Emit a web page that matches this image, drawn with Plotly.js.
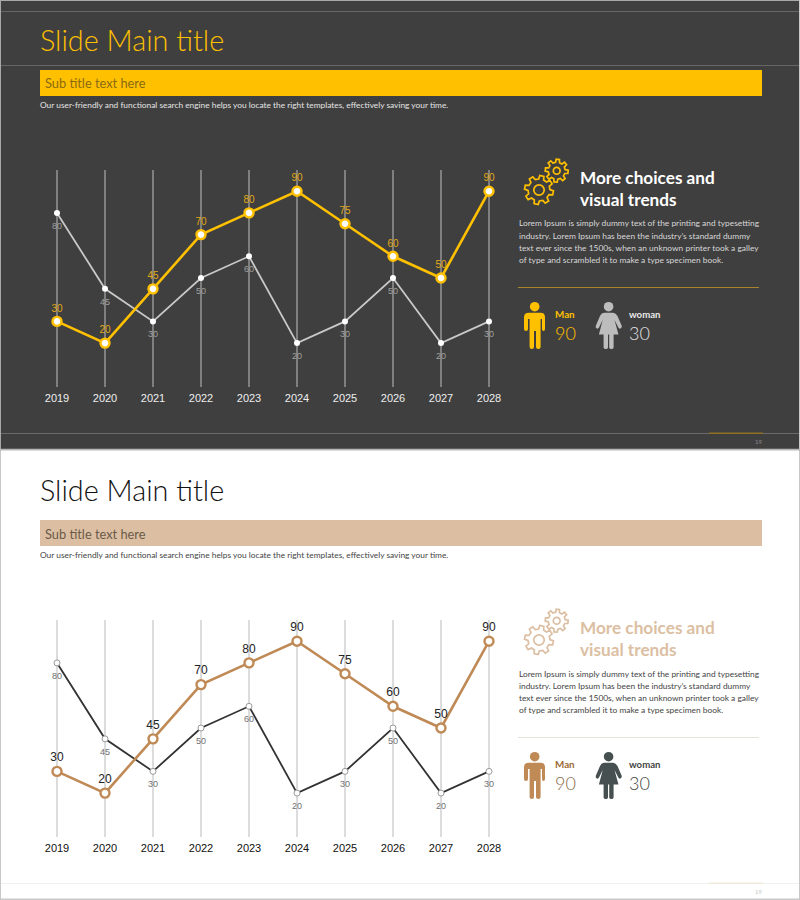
<!DOCTYPE html>
<html><head><meta charset="utf-8">
<script src="https://cdn.plot.ly/plotly-3.0.1.min.js"></script>
<style>html,body{margin:0;padding:0;background:#fff}#c{width:800px;height:900px}</style>
</head><body><div id="c"></div>
<script>
const years = ['2019','2020','2021','2022','2023','2024','2025','2026','2027','2028'];
const manValues = [30,20,45,70,80,90,75,60,50,90];
const womanValues = [80,45,30,50,60,20,30,50,20,30];
const bodyLines = [
 'Lorem Ipsum is simply dummy text of the printing and typesetting',
 'industry. Lorem Ipsum has been the industry\u2019s standard dummy',
 'text ever since the 1500s, when an unknown printer took a galley',
 'of type and scrambled it to make a type specimen book.'];
const titleText = 'Slide Main title';
const subText = 'Sub title text here';
const descText = 'Our user-friendly and functional search engine helps you locate the right templates, effectively saving your time.';
const headLines = ['More choices and','visual trends'];

const W=800,H=900, FONT='Lato, "Open Sans", sans-serif', AX='"Liberation Sans", Arial, sans-serif';
const px=x=>x/W, py=y=>1-y/H;
const shapes=[], annotations=[];
function rect(x0,y0,x1,y1,fill){shapes.push({type:'rect',xref:'paper',yref:'paper',x0:px(x0),x1:px(x1),y0:py(y0),y1:py(y1),fillcolor:fill,line:{width:0},layer:'below'});}
function pathShape(d,fill,stroke,sw){shapes.push({type:'path',xref:'paper',yref:'paper',path:d,fillcolor:fill||'rgba(0,0,0,0)',line:{color:stroke||'rgba(0,0,0,0)',width:sw||0},layer:'above'});}
function P(pts){
  return pts.map(s=>{ if(typeof s==='string')return s; return px(s[0]).toFixed(5)+','+py(s[1]).toFixed(5);}).join(' ');
}
function note(t,x,y,size,color,o){annotations.push(Object.assign({text:t,x:px(x-1),y:py(y),xref:'paper',yref:'paper',showarrow:false,xanchor:'left',yanchor:'middle',align:'left',borderpad:0,font:Object.assign({family:FONT,size:size,color:color},o&&o.font||{})},o&&o.a||{}));}
function circle(cx,cy,r,fill,stroke,sw){shapes.push({type:'circle',xref:'paper',yref:'paper',x0:px(cx-r),x1:px(cx+r),y0:py(cy+r),y1:py(cy-r),fillcolor:fill||'rgba(0,0,0,0)',line:{color:stroke||'rgba(0,0,0,0)',width:sw||0},layer:'above'});}
function gear(cx,cy,ro,ri,rh,teeth,color,sw,rot){
  const seg=[];const n=teeth;
  for(let i=0;i<n;i++){
    const a=rot+i*2*Math.PI/n, s=2*Math.PI/n;
    const pts=[[ri,a-s*0.3],[ro,a-s*0.18],[ro,a+s*0.18],[ri,a+s*0.3]];
    pts.forEach(p=>seg.push([cx+p[0]*Math.cos(p[1]),cy+p[0]*Math.sin(p[1])]));
  }
  let d='M '+P([seg[0]]);for(let i=1;i<seg.length;i++)d+=' L '+P([seg[i]]);d+=' Z';
  pathShape(d,null,color,sw);
  circle(cx,cy,rh,null,color,sw);
}
function man(dy,color){
  const q=(a,b,c,e)=>'Q '+P([[a,b+dy]])+' '+P([[c,e+dy]]);
  const L=(a,b)=>'L '+P([[a,b+dy]]);
  circle(534.7,306.7+dy,4.8,color);
  pathShape(['M '+P([[529,312.7+dy]]),L(540.5,312.7),q(545,312.7,545,317),L(545,329),q(545,331,543.5,331),q(542,331,542,329),L(542,319),L(540.6,319),L(540.6,347),q(540.6,349,538.3,349),q(536,349,536,347),L(536,331),L(534,331),L(534,347),q(534,349,531.8,349),q(529.6,349,529.6,347),L(529.6,319),L(528,319),L(528,329),q(528,331,526,331),q(524,331,524,329),L(524,317),q(524,312.7,529,312.7),'Z'].join(' '),color);
}
function woman(dy,color){
  const L=(a,b)=>'L '+P([[a,b+dy]]);
  const q=(a,b,c,e)=>'Q '+P([[a,b+dy]])+' '+P([[c,e+dy]]);
  circle(608.6,306.7+dy,4.8,color);
  pathShape(['M '+P([[604,312.7+dy]]),L(613,312.7),q(616,313,617.5,316),L(621.8,326),q(622,328,620.5,328.5),q(619,329,618.3,327.5),L(614.5,320),L(618.5,334.5),L(613.6,334.5),L(613.6,347.5),q(613.4,349,611.4,349),q(609.4,349,609.2,347.5),L(609.2,334.5),L(608,334.5),L(608,347.5),q(607.8,349,605.8,349),q(603.8,349,603.6,347.5),L(603.6,334.5),L(598.9,334.5),L(602.7,320),L(599,327.5),q(598.2,329,596.8,328.5),q(595.4,328,595.7,326),L(600,316),q(601,313,604,312.7),'Z'].join(' '),color);
}
rect(0,0,800,450,'#3f3f3f');
rect(0,0,800,1,'#a8a8a8');rect(0,0,1,450,'#a8a8a8');
rect(799,0,800,900,'#c8c8c8');rect(0,450,1,900,'#c8c8c8');rect(0,898.5,800,900,'#c8c8c8');
rect(0,448.7,800,450.5,'#b8b8b8');
rect(1,11,799,12,'#666666');rect(1,65,799,66,'#666666');rect(1,433,799,434,'#6a6a6a');
rect(709,432.6,763,434,'#8f7125');
rect(1,883,799,884,'#f0f0f0');rect(709,882.6,763,884,'#f0e9dc');
rect(40,70,762,96,'#ffc000');rect(40,520,762,546,'#dcbfa3');
rect(518,287,759,288,'#a8842a');rect(518,737,759,738,'#e6e2dc');

function panel(dy,o){
  note(titleText,40,40+dy,28.8,o.title,{font:{weight:300}});
  note(subText,45,83.5+dy,12.8,o.sub,{font:{weight:400}});
  note(descText,40,105+dy,8.35,o.desc,{font:{weight:400}});
  note(headLines[0],580,177+dy,17.2,o.head,{font:{weight:700}});
  note(headLines[1],580,199.5+dy,17.2,o.head,{font:{weight:700}});
  bodyLines.forEach((t,i)=>note(t,518.5,223.5+dy+i*12,8.4,o.body));
  note('Man',555,314+dy,9.8,o.manLab,{font:{weight:700}});
  note('90',555,333+dy,18,o.manNum,{font:{weight:300}});
  note('woman',629,314+dy,9.6,o.womLab,{font:{weight:700}});
  note('30',629,333+dy,18,o.womNum,{font:{weight:300}});
  note('19',755,441+dy,6,o.page);
  gear(539,190+dy,14.5,11,5.2,8,o.gear,1.7,0.2);
  gear(556.7,170.7+dy,11.5,8.5,3.4,8,o.gear,1.7,0.1);
  man(dy,o.manIcon);woman(dy,o.womIcon);
}
panel(0,{title:'#ffc000',sub:'#8a6a12',desc:'#e4e4e4',head:'#ffffff',body:'#d8d8d8',manLab:'#ffc000',manNum:'#ffc000',womLab:'#e8e8e8',womNum:'#e0e0e0',page:'#8a8a8a',gear:'#ffc000',manIcon:'#ffc000',womIcon:'#bdbdbd'});
panel(450,{title:'#111111',sub:'#6a5a48',desc:'#444444',head:'#dcbfa3',body:'#444444',manLab:'#9a6a35',manNum:'#8a6a48',womLab:'#444444',womNum:'#444444',page:'#c8c8c8',gear:'#dcbfa3',manIcon:'#bf8a56',womIcon:'#475050'});

const lab=v=>v.map(String);
const CLEAR='rgba(0,0,0,0)';
function series(xa,ya,vals,pos,line,marker,textfont,gap){
  return [
   {x:years,y:vals,xaxis:xa,yaxis:ya,mode:'lines+markers',cliponaxis:false,hoverinfo:'skip',line:line,marker:marker},
   {x:years,y:vals,xaxis:xa,yaxis:ya,mode:'markers+text',text:lab(vals),textposition:pos,cliponaxis:false,hoverinfo:'skip',marker:{size:gap,color:CLEAR,line:{width:0}},textfont:textfont}
  ];
}
const traces=[].concat(
 series('x','y',womanValues,'bottom center',{color:'#c8c8c8',width:1.8},{size:6,color:'#ffffff',line:{width:0}},{family:AX,size:9,color:'#a0a0a0'},13),
 series('x','y',manValues,'top center',{color:'#ffc000',width:2.6},{size:9,color:'#ffffff',line:{color:'#ffc000',width:2.4}},{family:AX,size:10,color:'#e0a818'},10),
 series('x2','y2',womanValues,'bottom center',{color:'#333333',width:1.8},{size:6,color:'#ffffff',line:{color:'#999999',width:1}},{family:AX,size:9,color:'#707070'},13),
 series('x2','y2',manValues,'top center',{color:'#bf8a56',width:2.6},{size:9,color:'#ffffff',line:{color:'#bf8a56',width:2.4}},{family:AX,size:12,color:'#222222'},10)
);
function xa(anchor,grid,tick){return {anchor:anchor,type:'category',domain:[33/W,513/W],range:[-0.5,9.5],showgrid:true,gridcolor:grid,gridwidth:1.3,zeroline:false,showline:false,ticks:'',ticklabelstandoff:3,tickfont:{family:AX,size:11,color:tick},fixedrange:true};}
function ya(anchor,top,bot){return {anchor:anchor,domain:[1-bot/H,1-top/H],range:[0,100],visible:false,showgrid:false,zeroline:false,fixedrange:true};}
const layout={width:W,height:H,margin:{l:0,r:0,t:0,b:0},paper_bgcolor:'#ffffff',plot_bgcolor:'rgba(0,0,0,0)',showlegend:false,
 xaxis:xa('y','#7f7f7f','#eeeeee'),yaxis:ya('x',169.5,386.5),
 xaxis2:xa('y2','#dcdcdc','#111111'),yaxis2:ya('x2',619.5,836.5),
 shapes:shapes,annotations:annotations};
Plotly.newPlot('c',traces,layout,{displayModeBar:false,staticPlot:true});
</script></body></html>
